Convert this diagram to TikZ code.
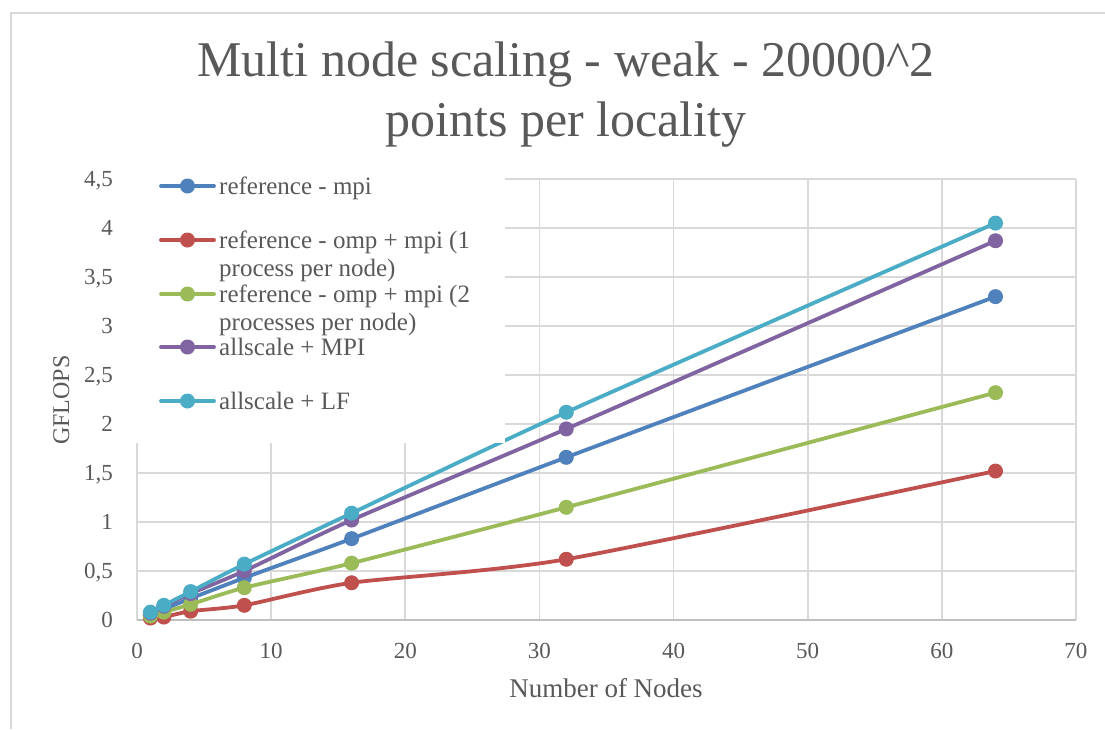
\documentclass[tikz,border=0pt]{standalone}
\usepackage{fontspec}
\setmainfont{Liberation Serif}
\definecolor{txt}{HTML}{595959}
\definecolor{gridc}{HTML}{D9D9D9}
\definecolor{axisc}{HTML}{BFBFBF}
\definecolor{sblue}{HTML}{4F81BD}
\definecolor{sred}{HTML}{C0504D}
\definecolor{sgreen}{HTML}{9BBB59}
\definecolor{spurple}{HTML}{8064A2}
\definecolor{scyan}{HTML}{4BACC6}
\tikzset{
  gridline/.style={draw=gridc, line width=1.6pt},
  axisline/.style={draw=axisc, line width=2pt},
  serline/.style={line width=3.8pt, line cap=round, line join=round},
  smoothplot/.style={smooth, tension=0.4},
  dot/.style={circle, inner sep=0pt, minimum size=15pt, draw=none},
  ticklab/.style={text=txt, inner sep=0pt, font=\fontsize{23}{28}\selectfont},
  legtext/.style={text=txt, inner sep=0pt, anchor=base west, font=\fontsize{25}{28}\selectfont},
  axtitle/.style={text=txt, inner sep=0pt, anchor=base, font=\fontsize{27}{31}\selectfont},
  titletext/.style={text=txt, inner sep=0pt, anchor=base, font=\fontsize{50}{56}\selectfont}
}
\begin{document}
\begin{tikzpicture}[x=1pt,y=-1pt]
\useasboundingbox (0,0) rectangle (1105,729);
\fill[white] (0,0) rectangle (1105,729);
% chart border
\draw[draw=gridc, line width=1.5pt] (11,729) -- (11,13) -- (1105,13);
% title
\node[titletext] (title1) at (566,76) {Multi node scaling - weak - 20000\textasciicircum 2};
\node[titletext] (title2) at (566,136) {points per locality};
% plot area
\begin{scope}[shift={(137,620)}, x=13.414pt, y=98pt]
  \foreach \v in {0.5,1,...,4.5} \draw[gridline] (0,\v) -- (70,\v);
  \foreach \u in {10,20,...,70} \draw[gridline] (\u,0) -- (\u,4.5);
  \draw[gridline] (0,0) -- (0,4.5);
  \draw[axisline] (0,0) -- (70,0);
  % series
  \draw[serline, sblue] plot[smoothplot] coordinates {(1,0.05) (2,0.11) (4,0.22) (8,0.43) (16,0.83) (32,1.66) (64,3.30)};
  \foreach \px/\py in {1/0.05,2/0.11,4/0.22,8/0.43,16/0.83,32/1.66,64/3.30}
    \node[dot, fill=sblue] at (\px,\py) {};
  \draw[serline, sred] plot[smoothplot] coordinates {(1,0.02) (2,0.03) (4,0.09) (8,0.15) (16,0.38) (32,0.62) (64,1.52)};
  \foreach \px/\py in {1/0.02,2/0.03,4/0.09,8/0.15,16/0.38,32/0.62,64/1.52}
    \node[dot, fill=sred] at (\px,\py) {};
  \draw[serline, sgreen] plot[smoothplot] coordinates {(1,0.04) (2,0.08) (4,0.16) (8,0.33) (16,0.58) (32,1.15) (64,2.32)};
  \foreach \px/\py in {1/0.04,2/0.08,4/0.16,8/0.33,16/0.58,32/1.15,64/2.32}
    \node[dot, fill=sgreen] at (\px,\py) {};
  \draw[serline, spurple] plot[smoothplot] coordinates {(1,0.07) (2,0.14) (4,0.27) (8,0.50) (16,1.02) (32,1.95) (64,3.87)};
  \foreach \px/\py in {1/0.07,2/0.14,4/0.27,8/0.50,16/1.02,32/1.95,64/3.87}
    \node[dot, fill=spurple] at (\px,\py) {};
  \draw[serline, scyan] plot[smoothplot] coordinates {(1,0.08) (2,0.15) (4,0.29) (8,0.57) (16,1.09) (32,2.12) (64,4.05)};
  \foreach \px/\py in {1/0.08,2/0.15,4/0.29,8/0.57,16/1.09,32/2.12,64/4.05}
    \node[dot, fill=scyan] at (\px,\py) {};
\end{scope}
% legend box
\fill[white] (125,172) rectangle (505,443);
\foreach \ly/\lc [count=\i] in {186/sblue,240/sred,294/sgreen,347/spurple,401/scyan}{
  \draw[serline, \lc] (161,\ly) -- (214,\ly);
  \node[dot, fill=\lc] (lm\i) at (187.5,\ly) {};
}
\node[legtext] (l1) at (219,194) {reference - mpi};
\node[legtext] (l2a) at (219,248) {reference - omp + mpi (1};
\node[legtext] (l2b) at (219,276) {process per node)};
\node[legtext] (l3a) at (219,302) {reference - omp + mpi (2};
\node[legtext] (l3b) at (219,330) {processes per node)};
\node[legtext] (l4) at (219,355) {allscale + MPI};
\node[legtext] (l5) at (219,409) {allscale + LF};
% y tick labels
\foreach \v/\t in {0/0,0.5/{0,5},1/1,1.5/{1,5},2/2,2.5/{2,5},3/3,3.5/{3,5},4/4,4.5/{4,5}}
  \node[ticklab, anchor=base east] at (113,620-98*\v+7.5) {\t};
% x tick labels
\foreach \u in {0,10,...,70}
  \node[ticklab, anchor=base] at (137+13.414*\u,658.5) {\u};
% axis titles
\node[axtitle] (xt) at (606,697) {Number of Nodes};
\node[axtitle, rotate=90, font=\fontsize{24}{28}\selectfont] (yt) at (69,400) {GFLOPS};
\end{tikzpicture}
\end{document}
